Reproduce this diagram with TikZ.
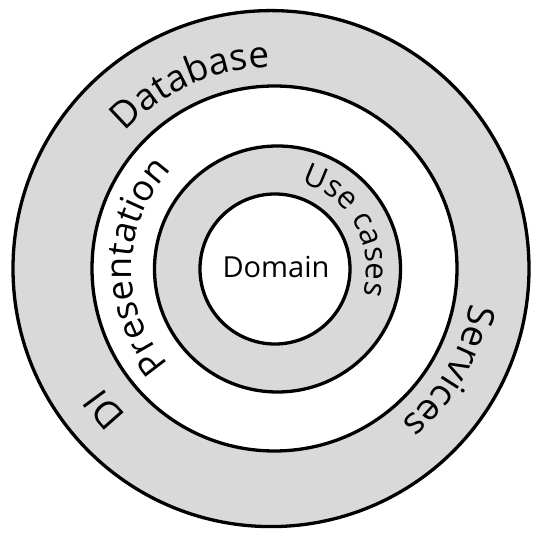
\documentclass[tikz,border=0pt]{standalone}
\usepackage{fontspec}
\newfontfamily\lblfont{Open Sans}
\newcommand\mylbl{\lblfont\fontsize{37}{42}\selectfont}
\newcommand\mymid{\lblfont\fontsize{36}{41}\selectfont}
\newcommand\mysmall{\lblfont\fontsize{31}{36}\selectfont}
\usetikzlibrary{decorations.text,calc}
\definecolor{ringgray}{RGB}{217,217,217}
\begin{document}
\begin{tikzpicture}[x=1pt,y=1pt,
  ring/.style={draw=black, line width=3.3pt},
  curved/.style={decorate, decoration={text along path, text align=center, text={#1}}}
]
\useasboundingbox (0,0) rectangle (536,538);
\coordinate (c1) at (271,269.4);
\coordinate (c2) at (274.5,269.5);
\coordinate (c3) at (277.5,269);
\coordinate (c4) at (275,269);
\coordinate (co) at (272.5,269.5);
\coordinate (cm) at (276,269);
\draw[ring, fill=ringgray] (c1) circle[radius=258];
\draw[ring, fill=white] (c2) circle[radius=182.5];
\draw[ring, fill=ringgray] (c3) circle[radius=123];
\draw[ring, fill=white] (c4) circle[radius=75];
\node[font=\lblfont\fontsize{29}{34}\selectfont, inner sep=0pt] (domain) at (276,271) {Domain};
\path[curved={|\mylbl|Database}] ($(co)+(174:201)$) arc[start angle=174, end angle=54, radius=201];
\path[curved={|\mylbl|Services}] ($(co)+(30:201)$) arc[start angle=30, end angle=-90, radius=201];
\path[curved={|\mylbl|DI}] ($(co)+(280:207)$) arc[start angle=280, end angle=160, radius=207];
\path[curved={|\mymid|Presentation}] ($(cm)+(239:144)$) arc[start angle=239, end angle=119, radius=144];
\path[curved={|\mysmall|Use cases}] ($(c3)+(99:89)$) arc[start angle=99, end angle=-41, radius=89];
\end{tikzpicture}
\end{document}
